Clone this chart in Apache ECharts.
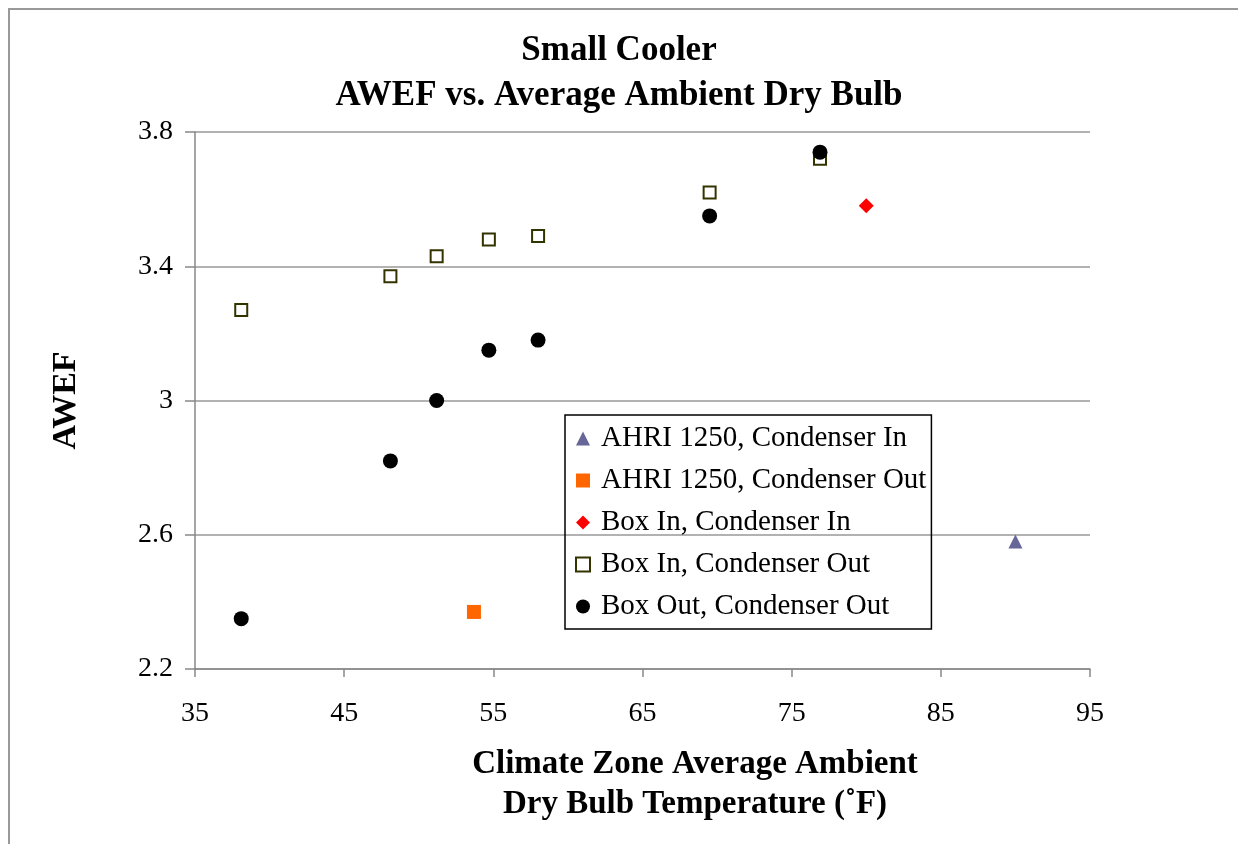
<!DOCTYPE html>
<html>
<head>
<meta charset="utf-8">
<script src="https://cdn.jsdelivr.net/npm/echarts@6/dist/echarts.min.js"></script>
<style>
  html, body { margin: 0; padding: 0; background: #fff; }
  #main { width: 1238px; height: 844px; position: relative; }
  #frame { position: absolute; left: 8px; top: 8px; width: 1240px; height: 850px;
           border-left: 2px solid #999; border-top: 2px solid #999; pointer-events: none; }
</style>
</head>
<body>
<div id="main"></div>
<div id="frame"></div>
<script>
// 数据
var ahriInX = [90];
var ahriInY = [2.58];
var ahriOutX = [53.7];
var ahriOutY = [2.37];
var boxInCondInX = [80];
var boxInCondInY = [3.58];
var zoneX = [38.1, 48.1, 51.2, 54.7, 58.0, 69.5, 76.9];
var boxInCondOutY = [3.27, 3.37, 3.43, 3.48, 3.49, 3.62, 3.72];
var boxOutCondOutY = [2.35, 2.82, 3.00, 3.15, 3.18, 3.55, 3.74];
var seriesNames = ['AHRI 1250, Condenser In', 'AHRI 1250, Condenser Out',
  'Box In, Condenser In', 'Box In, Condenser Out', 'Box Out, Condenser Out'];

function pairs (xs, ys) {
  var out = [];
  for (var i = 0; i < xs.length; i++) {
    out.push([xs[i], ys[i]]);
  }
  return out;
}

var font = '"Liberation Serif", "Times New Roman", serif';
var myChart = echarts.init(document.querySelector('#main'));

option = {
  animation: false,
  textStyle: { fontFamily: font },
  title: {
    text: 'Small Cooler\nAWEF vs. Average Ambient Dry Bulb',
    left: 'center',
    top: 23,
    textStyle: { fontFamily: font, fontSize: 35, fontWeight: 'bold', color: '#000', lineHeight: 45 }
  },
  graphic: [{
    type: 'text',
    x: 695,
    y: 784,
    style: {
      text: 'Climate Zone Average Ambient\nDry Bulb Temperature (˚F)',
      fontFamily: font, fontSize: 33, fontWeight: 'bold', fill: '#000',
      lineHeight: 40, align: 'center', verticalAlign: 'middle'
    }
  }],
  legend: {
    orient: 'vertical',
    left: 565,
    top: 415,
    padding: [9, 5, 8, 10],
    itemGap: 13,
    itemWidth: 14,
    itemHeight: 14,
    borderColor: '#000',
    borderWidth: 1.5,
    data: seriesNames,
    textStyle: { fontFamily: font, fontSize: 29, color: '#000', lineHeight: 29, padding: [0, 0, 0, 6] }
  },
  grid: {
    left: 195,
    right: 148,
    top: 132,
    bottom: 175
  },
  xAxis: {
    type: 'value',
    min: 35,
    max: 95,
    interval: 10,
    axisLine: { show: true, onZero: false, lineStyle: { color: '#888', width: 1.5 } },
    axisTick: { show: true, length: 8, lineStyle: { color: '#888', width: 1.5 } },
    splitLine: { show: false },
    axisLabel: { fontFamily: font, fontSize: 28, color: '#000', margin: 31 }
  },
  yAxis: {
    type: 'value',
    min: 2.2,
    max: 3.8,
    interval: 0.4,
    name: 'AWEF',
    nameLocation: 'middle',
    nameRotate: 90,
    nameGap: 112,
    nameTextStyle: { fontFamily: font, fontSize: 34, fontWeight: 'bold', color: '#000' },
    axisLine: { show: true, onZero: false, lineStyle: { color: '#888', width: 1.5 } },
    axisTick: { show: true, length: 10, lineStyle: { color: '#888', width: 1.5 } },
    splitLine: { show: true, lineStyle: { color: '#999', width: 1.5 } },
    axisLabel: { fontFamily: font, fontSize: 28, color: '#000', margin: 22 }
  },
  series: [{
    name: seriesNames[0],
    type: 'scatter',
    symbol: 'triangle',
    symbolSize: 14,
    itemStyle: { color: '#666699', opacity: 1 },
    data: pairs(ahriInX, ahriInY)
  },
  {
    name: seriesNames[1],
    type: 'scatter',
    symbol: 'rect',
    symbolSize: 14,
    itemStyle: { color: '#FF6600', opacity: 1 },
    data: pairs(ahriOutX, ahriOutY)
  },
  {
    name: seriesNames[2],
    type: 'scatter',
    symbol: 'diamond',
    symbolSize: 15,
    itemStyle: { color: '#FF0000', opacity: 1 },
    data: pairs(boxInCondInX, boxInCondInY)
  },
  {
    name: seriesNames[3],
    type: 'scatter',
    symbol: 'rect',
    symbolSize: 12,
    itemStyle: { color: '#fff', borderColor: '#333300', borderWidth: 2, opacity: 1 },
    data: pairs(zoneX, boxInCondOutY)
  },
  {
    name: seriesNames[4],
    type: 'scatter',
    symbol: 'circle',
    symbolSize: 15,
    itemStyle: { color: '#000', opacity: 1 },
    data: pairs(zoneX, boxOutCondOutY)
  }]
};

myChart.setOption(option);
window.addEventListener('resize', function () {
  myChart.resize();
});
</script>
</body>
</html>
